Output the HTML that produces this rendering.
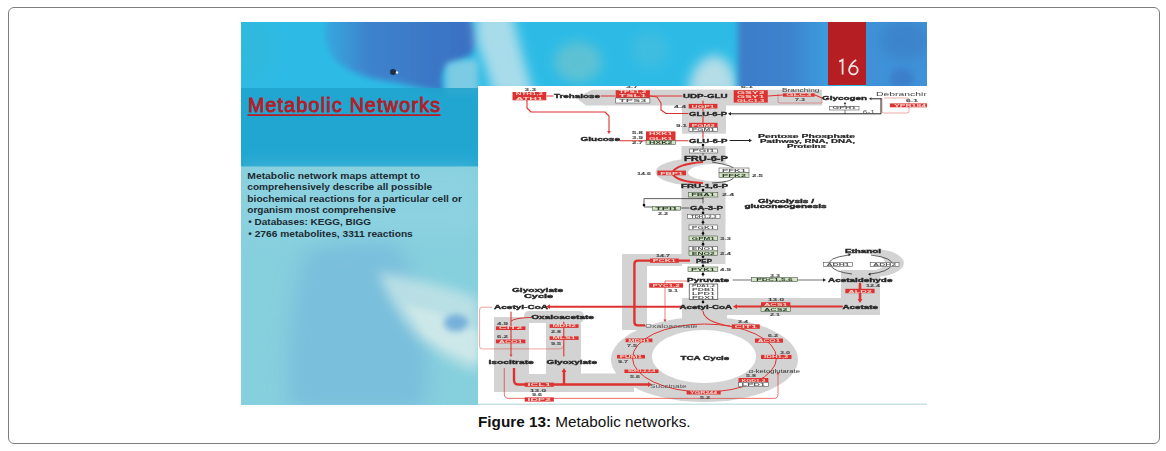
<!DOCTYPE html>
<html><head><meta charset="utf-8">
<style>
html,body{margin:0;padding:0;background:#fff;width:1166px;height:451px;overflow:hidden;}
body{position:relative;font-family:"Liberation Sans",sans-serif;}
#frame{position:absolute;left:8px;top:7px;width:1150px;height:435px;border:1px solid #7e7e7e;border-radius:6px;}
#dg{position:absolute;left:0;top:0;}
#cap{position:absolute;left:478px;top:413px;font-size:15.3px;color:#111;white-space:nowrap;}
</style></head><body>
<div id="frame"></div>
<svg id="dg" width="1166" height="451" viewBox="0 0 1166 451" font-family="Liberation Sans, sans-serif">

<defs>
 <clipPath id="ci"><rect x="241" y="22" width="686" height="383"/></clipPath>
 <clipPath id="cp"><rect x="478" y="86" width="449" height="319"/></clipPath>
 <filter id="b6" x="-50%" y="-50%" width="200%" height="200%"><feGaussianBlur stdDeviation="6"/></filter>
 <filter id="b3" x="-50%" y="-50%" width="200%" height="200%"><feGaussianBlur stdDeviation="3"/></filter>
 <filter id="b10" x="-50%" y="-50%" width="200%" height="200%"><feGaussianBlur stdDeviation="10"/></filter>
 <filter id="bd" x="0" y="0" width="100%" height="100%"><feGaussianBlur stdDeviation="0.45"/></filter>
</defs>
<g clip-path="url(#ci)">
 <rect x="241" y="22" width="686" height="383" fill="#2dbbe6"/>
 <ellipse cx="252" cy="50" rx="22" ry="35" fill="#3ab4c8" opacity="0.3" filter="url(#b10)"/>
 <linearGradient id="blobg" x1="335" y1="0" x2="470" y2="0" gradientUnits="userSpaceOnUse"><stop offset="0" stop-color="#38a0da"/><stop offset="0.25" stop-color="#3d82cc"/><stop offset="1" stop-color="#3a70c2"/></linearGradient>
 <path d="M330,12 L467,12 Q478,28 476,43 Q474,56 462,60 Q449,63 443,72 Q440,84 446,93 Q420,88 395,82 Q355,78 335,60 Q320,40 330,12 Z" fill="url(#blobg)" filter="url(#b3)"/>
 <circle cx="393" cy="72" r="3" fill="#1e3040"/>
 <path d="M476,12 L512,12 Q520,50 534,95 L494,95 Q484,60 476,40 Z" fill="#a8dcea" filter="url(#b6)"/>
 <path d="M446,64 Q465,58 478,60 L478,95 L446,95 Z" fill="#7ccbe4" filter="url(#b3)"/>
 <ellipse cx="578" cy="62" rx="24" ry="20" fill="#6ec4cf" opacity="0.75" filter="url(#b6)"/>
 <ellipse cx="650" cy="50" rx="18" ry="18" fill="#5cc0d8" opacity="0.4" filter="url(#b6)"/>
 <path d="M688,95 Q690,60 715,55 Q735,58 738,95 Z" fill="#b4dde8" filter="url(#b6)"/>
 <linearGradient id="bg2" x1="735" y1="0" x2="830" y2="0" gradientUnits="userSpaceOnUse"><stop offset="0" stop-color="#3d7cc8"/><stop offset="0.55" stop-color="#3e82cc"/><stop offset="1" stop-color="#3a9edf"/></linearGradient>
 <rect x="738" y="10" width="100" height="85" fill="url(#bg2)" filter="url(#b3)"/>
 <rect x="866" y="10" width="70" height="85" fill="#3f92d8"/>
 <ellipse cx="905" cy="40" rx="25" ry="20" fill="#3a78c0" opacity="0.5" filter="url(#b6)"/>
 <ellipse cx="902" cy="78" rx="12" ry="10" fill="#3a72c0" opacity="0.6" filter="url(#b3)"/>
 <circle cx="397" cy="72.5" r="1.2" fill="#e8f4f8"/>
 <rect x="241" y="88" width="237" height="79" fill="#1ea2cc" opacity="0.85"/>
 <rect x="241" y="166.5" width="237" height="240" fill="#86cfdd"/>
 <path d="M305,250 Q340,238 396,240 Q410,270 422,310 Q432,350 425,410 L290,410 Q282,330 305,250 Z" fill="#72b2dc" opacity="0.55" filter="url(#b10)"/>
 <path d="M378,272 Q430,280 478,298 L478,372 Q445,362 415,335 Q390,305 378,272 Z" fill="#bfe2e6" opacity="0.9" filter="url(#b6)"/>
 <path d="M405,305 Q445,312 478,332 L478,362 Q448,352 425,335 Z" fill="#d2eaea" opacity="0.8" filter="url(#b3)"/>
 <ellipse cx="456" cy="323" rx="12" ry="8.5" fill="#62a2d6" opacity="0.8" filter="url(#b3)"/>
 <rect x="241" y="167" width="237" height="70" fill="#96d6e4" opacity="0.4" filter="url(#b10)"/>
 <rect x="828" y="22" width="38" height="63" fill="#b51f24"/>
 <g fill="none" stroke="#f3e4e4" stroke-width="1.8" stroke-linecap="butt">
  <path d="M839.2,61.6 L842.6,59.8 L842.6,74.6"/>
  <circle cx="853.4" cy="70.1" r="4.3"/>
  <path d="M856.2,59.9 Q851,63 849.3,68.6"/>
 </g>
 <rect x="478" y="86" width="449" height="319" fill="#ffffff"/>
 <rect x="478" y="403.5" width="449" height="1.5" fill="#c6e2e6"/>
</g>
<text x="247.9" y="112.2" font-size="19.6" font-weight="normal" fill="#bd2028" stroke="#b01d26" stroke-width="0.9" textLength="192.1" lengthAdjust="spacing">Metabolic Networks</text>
<rect x="247.5" y="114.2" width="193" height="1.8" fill="#b81e28"/>
<g font-size="9.7" font-weight="bold" fill="#1c2a32">
 <text x="247.3" y="178.8" textLength="172.7" lengthAdjust="spacingAndGlyphs">Metabolic network maps attempt to</text>
 <text x="247.3" y="190.2" textLength="184.8" lengthAdjust="spacingAndGlyphs">comprehensively describe all possible</text>
 <text x="247.3" y="201.6" textLength="214.7" lengthAdjust="spacingAndGlyphs">biochemical reactions for a particular cell or</text>
 <text x="247.3" y="213.0" textLength="148.6" lengthAdjust="spacingAndGlyphs">organism most comprehensive</text>
 <text x="248.3" y="225.0" textLength="122.7" lengthAdjust="spacingAndGlyphs">&#8226; Databases: KEGG, BIGG</text>
 <text x="248.3" y="236.6" textLength="164.5" lengthAdjust="spacingAndGlyphs">&#8226; 2766 metabolites, 3311 reactions</text>
</g>

<g clip-path="url(#cp)"><g filter="url(#bd)">
<g fill="#d3d3d3">
<polygon points="576,98 592,89.7 822,89.7 822,105.5 586,105.5"/>
<rect x="682" y="89.7" width="44" height="44"/>
<rect x="681.5" y="146" width="44" height="118"/>
<ellipse cx="696" cy="172" rx="40.5" ry="13.5"/>
<rect x="622" y="254" width="25" height="76"/>
<rect x="622" y="254" width="60" height="12"/>
<rect x="682" y="298" width="159" height="17"/>
<rect x="841" y="271" width="39" height="44"/>
<ellipse cx="872" cy="263" rx="32" ry="14"/>
<ellipse cx="704.5" cy="359.5" rx="93.5" ry="42.5"/>
<rect x="682" y="298" width="45" height="30"/>
<rect x="494" y="317" width="35" height="75"/>
<rect x="546" y="317" width="35" height="75"/>
<rect x="524" y="311" width="60" height="12" rx="5"/>
<rect x="494" y="373.5" width="140" height="18.5"/>
</g>
<ellipse cx="704" cy="356.5" rx="52" ry="26.5" fill="#fff"/>
<ellipse cx="718" cy="172.5" rx="30" ry="8.8" fill="#fff"/>
<rect x="529" y="323.5" width="17" height="50.5" fill="#fff"/>
<ellipse cx="860" cy="262.5" rx="25" ry="9.5" fill="#fff"/>
<rect x="841" y="270" width="39" height="10" fill="#d3d3d3"/>
<path d="M527,100 L527,108 L531,112 L605,112 L609,116 L609,131" fill="none" stroke="#dd3330" stroke-width="1.1" stroke-opacity="1.0" stroke-linejoin="round" stroke-linecap="round"/>
<polygon points="609.00,134.00 607.20,131.00 610.80,131.00" fill="#dd3330"/>
<path d="M547,96 L553,96" fill="none" stroke="#dd3330" stroke-width="1.1" stroke-opacity="1.0" stroke-linejoin="round" stroke-linecap="round"/>
<path d="M601,96 L615,96" fill="none" stroke="#dd3330" stroke-width="1.1" stroke-opacity="1.0" stroke-linejoin="round" stroke-linecap="round"/>
<path d="M650,96 L682,96" fill="none" stroke="#dd3330" stroke-width="1.1" stroke-opacity="1.0" stroke-linejoin="round" stroke-linecap="round"/>
<path d="M650,96 L657,97 L661,103 L661,110 L666,113.5 L688,113.5" fill="none" stroke="#dd3330" stroke-width="1.1" stroke-opacity="1.0" stroke-linejoin="round" stroke-linecap="round"/>
<path d="M703,101 L703,103.5" fill="none" stroke="#dd3330" stroke-width="1.1" stroke-opacity="1.0" stroke-linejoin="round" stroke-linecap="round"/>
<path d="M703,108.5 L703,111" fill="none" stroke="#dd3330" stroke-width="1.1" stroke-opacity="1.0" stroke-linejoin="round" stroke-linecap="round"/>
<path d="M703,116 L703,122.5" fill="none" stroke="#dd3330" stroke-width="1.1" stroke-opacity="1.0" stroke-linejoin="round" stroke-linecap="round"/>
<path d="M703,131 L703,138" fill="none" stroke="#dd3330" stroke-width="1.1" stroke-opacity="1.0" stroke-linejoin="round" stroke-linecap="round"/>
<path d="M620,140.7 L646,140.7" fill="none" stroke="#dd3330" stroke-width="1.1" stroke-opacity="1.0" stroke-linejoin="round" stroke-linecap="round"/>
<path d="M676,140.7 L688,140.7" fill="none" stroke="#dd3330" stroke-width="1.1" stroke-opacity="1.0" stroke-linejoin="round" stroke-linecap="round"/>
<path d="M768,96 L783,95" fill="none" stroke="#dd3330" stroke-width="1.1" stroke-opacity="1.0" stroke-linejoin="round" stroke-linecap="round"/>
<path d="M815,95 L822,98" fill="none" stroke="#dd3330" stroke-width="1.1" stroke-opacity="1.0" stroke-linejoin="round" stroke-linecap="round"/>
<path d="M778,94 L778,101 Q778,103 780,103 L822,103 L822,98" fill="none" stroke="#dd3330" stroke-width="0.7" stroke-opacity="0.6" stroke-linejoin="round"/>
<path d="M882,98 L882,111 Q882,113 884,113 L907,113 Q909,113 909,111 L909,100 Q909,98 907,98 L884,98" fill="none" stroke="#dd3330" stroke-width="0.7" stroke-opacity="0.6" stroke-linejoin="round"/>
<path d="M872,98.8 L881,98.8" fill="none" stroke="#222" stroke-width="1.0" stroke-opacity="1.0" stroke-linejoin="round" stroke-linecap="round"/>
<polygon points="869.00,98.80 871.50,97.30 871.50,100.30" fill="#222"/>
<path d="M845,106.5 L845,104" fill="none" stroke="#222" stroke-width="0.6" stroke-opacity="1.0" stroke-linejoin="round" stroke-linecap="round"/>
<polygon points="845.00,102.00 843.80,104.00 846.20,104.00" fill="#222"/>
<path d="M703,162 Q676,164 672,173 Q676,182 703,183" fill="none" stroke="#dd3330" stroke-width="2.0" stroke-opacity="1.0" stroke-linejoin="round"/>
<path d="M690,260.6 L638,260.6 Q634.4,260.6 634.4,264 L634.4,322 Q634.4,325.4 638,325.4 L645,325.4" fill="none" stroke="#dd3330" stroke-width="2.4" stroke-opacity="1.0" stroke-linejoin="round"/>
<path d="M687,281 L665,281 L665,320" fill="none" stroke="#dd3330" stroke-width="0.8" stroke-opacity="0.8" stroke-linejoin="round"/>
<polygon points="665.00,322.00 663.50,319.50 666.50,319.50" fill="#dd3330"/>
<path d="M549,306.7 L681,306.7" fill="none" stroke="#dd3330" stroke-width="2.0" stroke-opacity="1.0" stroke-linejoin="round" stroke-linecap="round"/>
<polygon points="546.00,306.70 550.00,304.30 550.00,309.10" fill="#dd3330"/>
<path d="M736,306.6 L842,306.6" fill="none" stroke="#dd3330" stroke-width="2.0" stroke-opacity="1.0" stroke-linejoin="round" stroke-linecap="round"/>
<polygon points="733.00,306.60 737.00,304.20 737.00,309.00" fill="#dd3330"/>
<path d="M860,284 L860,300" fill="none" stroke="#dd3330" stroke-width="2.6" stroke-opacity="1.0" stroke-linejoin="round" stroke-linecap="round"/>
<polygon points="860.00,303.00 857.60,299.00 862.40,299.00" fill="#dd3330"/>
<path d="M703,311 Q704,322 730,326" fill="none" stroke="#dd3330" stroke-width="1.1" stroke-opacity="1.0" stroke-linejoin="round"/>
<ellipse cx="704.5" cy="358" rx="72" ry="34" fill="none" stroke="#dd3330" stroke-width="1.0"/>
<path d="M492,307.2 L482,307.2 Q479.6,307.2 479.6,310 L479.6,346 Q479.6,348.9 482,348.9 L560,348.9 Q563.8,348.9 563.8,345" fill="none" stroke="#dd3330" stroke-width="0.8" stroke-opacity="0.55" stroke-linejoin="round"/>
<path d="M511,312 L511,354" fill="none" stroke="#dd3330" stroke-width="1.1" stroke-opacity="1.0" stroke-linejoin="round" stroke-linecap="round"/>
<polygon points="511.00,357.00 509.50,354.50 512.50,354.50" fill="#dd3330"/>
<path d="M531,317.4 Q515,318 511,321" fill="none" stroke="#dd3330" stroke-width="1.0" stroke-opacity="1.0" stroke-linejoin="round"/>
<path d="M563.8,322 L563.8,356" fill="none" stroke="#dd3330" stroke-width="1.1" stroke-opacity="1.0" stroke-linejoin="round" stroke-linecap="round"/>
<path d="M514,368 L514,380 Q514,384.5 518,384.5 L649,384.5" fill="none" stroke="#dd3330" stroke-width="2.4" stroke-opacity="1.0" stroke-linejoin="round"/>
<polygon points="652.00,384.50 648.00,382.10 648.00,386.90" fill="#dd3330"/>
<path d="M564,384 L564,371" fill="none" stroke="#dd3330" stroke-width="2.4" stroke-opacity="1.0" stroke-linejoin="round" stroke-linecap="round"/>
<polygon points="564.00,368.00 561.60,372.00 566.40,372.00" fill="#dd3330"/>
<path d="M504.3,368 L504.3,394 Q504.3,398.4 509,398.4 L774,398.4 Q778,398.4 778,394 L778,375" fill="none" stroke="#dd3330" stroke-width="0.9" stroke-opacity="0.75" stroke-linejoin="round"/>
<polygon points="778.00,372.00 776.50,374.50 779.50,374.50" fill="#dd3330"/>
<path d="M730,113.8 L881,113.8 L881,98.8" fill="none" stroke="#222" stroke-width="1.0" stroke-opacity="1.0" stroke-linejoin="round" stroke-linecap="round"/>
<polygon points="728.00,113.80 731.00,112.00 731.00,115.60" fill="#222"/>
<path d="M730,140.5 L749,140.5" fill="none" stroke="#222" stroke-width="1.0" stroke-opacity="1.0" stroke-linejoin="round" stroke-linecap="round"/>
<polygon points="752.00,140.50 749.00,138.70 749.00,142.30" fill="#222"/>
<path d="M845,106.5 L845,113.8" fill="none" stroke="#222" stroke-width="0.6" stroke-opacity="1.0" stroke-linejoin="round" stroke-linecap="round"/>
<path d="M703,144.5 L703,149" fill="none" stroke="#222" stroke-width="0.7" stroke-opacity="1.0" stroke-linejoin="round" stroke-linecap="round"/>
<circle cx="703" cy="145" r="1.3" fill="#111"/>
<path d="M703,153 L703,155" fill="none" stroke="#222" stroke-width="0.7" stroke-opacity="1.0" stroke-linejoin="round" stroke-linecap="round"/>
<path d="M712,162 Q735,166 734,169" fill="none" stroke="#222" stroke-width="0.7" stroke-opacity="1.0" stroke-linejoin="round"/>
<path d="M734,177 Q733,182 712,183" fill="none" stroke="#222" stroke-width="0.7" stroke-opacity="1.0" stroke-linejoin="round"/>
<path d="M703,189 L703,192" fill="none" stroke="#222" stroke-width="0.7" stroke-opacity="1.0" stroke-linejoin="round" stroke-linecap="round"/>
<circle cx="703" cy="190" r="1.3" fill="#111"/>
<path d="M703,197 L703,203" fill="none" stroke="#222" stroke-width="0.7" stroke-opacity="1.0" stroke-linejoin="round" stroke-linecap="round"/>
<path d="M703,198.6 L644,198.6 L644,207 L652,207" fill="none" stroke="#222" stroke-width="0.7" stroke-opacity="1.0" stroke-linejoin="round" stroke-linecap="round"/>
<circle cx="644" cy="205" r="1.3" fill="#111"/>
<path d="M680.6,208 L689,208" fill="none" stroke="#222" stroke-width="0.7" stroke-opacity="1.0" stroke-linejoin="round" stroke-linecap="round"/>
<path d="M703,211 L703,214" fill="none" stroke="#222" stroke-width="0.7" stroke-opacity="1.0" stroke-linejoin="round" stroke-linecap="round"/>
<circle cx="703" cy="213.0" r="1.3" fill="#111"/>
<path d="M703,218.6 L703,225" fill="none" stroke="#222" stroke-width="0.7" stroke-opacity="1.0" stroke-linejoin="round" stroke-linecap="round"/>
<circle cx="703" cy="222.3" r="1.3" fill="#111"/>
<path d="M703,229.8 L703,236" fill="none" stroke="#222" stroke-width="0.7" stroke-opacity="1.0" stroke-linejoin="round" stroke-linecap="round"/>
<circle cx="703" cy="233.4" r="1.3" fill="#111"/>
<path d="M703,240.7 L703,246.6" fill="none" stroke="#222" stroke-width="0.7" stroke-opacity="1.0" stroke-linejoin="round" stroke-linecap="round"/>
<circle cx="703" cy="244.14999999999998" r="1.3" fill="#111"/>
<path d="M703,255.6 L703,257" fill="none" stroke="#222" stroke-width="0.7" stroke-opacity="1.0" stroke-linejoin="round" stroke-linecap="round"/>
<circle cx="703" cy="256.8" r="1.3" fill="#111"/>
<path d="M703,264 L703,267" fill="none" stroke="#222" stroke-width="0.7" stroke-opacity="1.0" stroke-linejoin="round" stroke-linecap="round"/>
<circle cx="703" cy="266.0" r="1.3" fill="#111"/>
<path d="M703,271.6 L703,276" fill="none" stroke="#222" stroke-width="0.7" stroke-opacity="1.0" stroke-linejoin="round" stroke-linecap="round"/>
<circle cx="703" cy="274.3" r="1.3" fill="#111"/>
<path d="M703,300 L703,303" fill="none" stroke="#222" stroke-width="0.7" stroke-opacity="1.0" stroke-linejoin="round" stroke-linecap="round"/>
<circle cx="703" cy="302.0" r="1.3" fill="#111"/>
<path d="M733,280 L823,280" fill="none" stroke="#333" stroke-width="0.7" stroke-opacity="1.0" stroke-linejoin="round" stroke-linecap="round"/>
<polygon points="826.00,280.00 823.00,278.20 823.00,281.80" fill="#222"/>
<path d="M849,255 Q826,258 830,265 Q834,272 852,274" fill="none" stroke="#222" stroke-width="0.7" stroke-opacity="1.0" stroke-linejoin="round"/>
<polygon points="851.00,254.80 848.50,253.30 848.50,256.30" fill="#222"/>
<path d="M871,255 Q894,258 892,265 Q888,272 870,274" fill="none" stroke="#222" stroke-width="0.7" stroke-opacity="1.0" stroke-linejoin="round"/>
<polygon points="868.00,274.20 870.50,272.70 870.50,275.70" fill="#222"/>
<rect x="512.5" y="92" width="33.80" height="8.30" fill="#dd3330"/>
<text x="529.40" y="95.49" text-anchor="middle" textLength="27.04" lengthAdjust="spacingAndGlyphs" font-size="3.94" font-weight="bold" fill="#f6d8d0">NTH1,2</text>
<text x="529.40" y="99.64" text-anchor="middle" textLength="27.04" lengthAdjust="spacingAndGlyphs" font-size="3.94" font-weight="bold" fill="#f6d8d0">ATH1</text>
<rect x="615.7" y="90.2" width="34.20" height="7.80" fill="#dd3330"/>
<text x="632.80" y="93.48" text-anchor="middle" textLength="27.36" lengthAdjust="spacingAndGlyphs" font-size="3.70" font-weight="bold" fill="#f6d8d0">TPS1,2</text>
<text x="632.80" y="97.38" text-anchor="middle" textLength="27.36" lengthAdjust="spacingAndGlyphs" font-size="3.70" font-weight="bold" fill="#f6d8d0">TSL1</text>
<rect x="615.7" y="98" width="34.20" height="5.00" fill="#ffffff" stroke="#555" stroke-width="0.6"/>
<text x="632.80" y="102.08" text-anchor="middle" textLength="27.36" lengthAdjust="spacingAndGlyphs" font-size="4.40" font-weight="bold" fill="#5a5a5a">TPS3</text>
<rect x="733.7" y="90.2" width="34.10" height="12.40" fill="#dd3330"/>
<text x="750.75" y="93.68" text-anchor="middle" textLength="27.28" lengthAdjust="spacingAndGlyphs" font-size="3.93" font-weight="bold" fill="#f6d8d0">GSY2</text>
<text x="750.75" y="97.81" text-anchor="middle" textLength="27.28" lengthAdjust="spacingAndGlyphs" font-size="3.93" font-weight="bold" fill="#f6d8d0">GSY1</text>
<text x="750.75" y="101.95" text-anchor="middle" textLength="27.28" lengthAdjust="spacingAndGlyphs" font-size="3.93" font-weight="bold" fill="#f6d8d0">GLC1,3</text>
<rect x="783" y="93.3" width="31.70" height="3.40" fill="#dd3330"/>
<text x="798.85" y="96.16" text-anchor="middle" textLength="25.36" lengthAdjust="spacingAndGlyphs" font-size="3.23" font-weight="bold" fill="#f6d8d0">GLC3</text>
<rect x="889.9" y="103.4" width="40.10" height="3.90" fill="#dd3330"/>
<text x="909.95" y="106.68" text-anchor="middle" textLength="32.08" lengthAdjust="spacingAndGlyphs" font-size="3.70" font-weight="bold" fill="#f6d8d0">YPR184</text>
<rect x="829.5" y="106.5" width="29.50" height="3.50" fill="#ffffff" stroke="#555" stroke-width="0.6"/>
<text x="844.25" y="109.45" text-anchor="middle" textLength="23.60" lengthAdjust="spacingAndGlyphs" font-size="3.32" font-weight="bold" fill="#5a5a5a">GPH1</text>
<rect x="688.7" y="103.9" width="28.70" height="4.60" fill="#dd3330"/>
<text x="703.05" y="107.77" text-anchor="middle" textLength="22.96" lengthAdjust="spacingAndGlyphs" font-size="4.37" font-weight="bold" fill="#f6d8d0">UGP1</text>
<rect x="689" y="122.8" width="28.50" height="4.70" fill="#dd3330"/>
<text x="703.25" y="126.73" text-anchor="middle" textLength="22.80" lengthAdjust="spacingAndGlyphs" font-size="4.40" font-weight="bold" fill="#f6d8d0">PGM2</text>
<rect x="689" y="127.5" width="28.50" height="3.90" fill="#ffffff" stroke="#555" stroke-width="0.6"/>
<text x="703.25" y="130.78" text-anchor="middle" textLength="22.80" lengthAdjust="spacingAndGlyphs" font-size="3.71" font-weight="bold" fill="#5a5a5a">PGM1</text>
<rect x="646" y="131.4" width="29.50" height="9.30" fill="#dd3330"/>
<text x="660.75" y="135.31" text-anchor="middle" textLength="23.60" lengthAdjust="spacingAndGlyphs" font-size="4.40" font-weight="bold" fill="#f6d8d0">HXK1</text>
<text x="660.75" y="139.96" text-anchor="middle" textLength="23.60" lengthAdjust="spacingAndGlyphs" font-size="4.40" font-weight="bold" fill="#f6d8d0">GLK1</text>
<rect x="646" y="140.7" width="29.50" height="3.80" fill="#d6e4c6" stroke="#4a5a4a" stroke-width="0.6"/>
<text x="660.75" y="143.90" text-anchor="middle" textLength="23.60" lengthAdjust="spacingAndGlyphs" font-size="3.61" font-weight="bold" fill="#2a3a2a">HXK2</text>
<rect x="689.5" y="149" width="27.90" height="4.00" fill="#ffffff" stroke="#555" stroke-width="0.6"/>
<text x="703.45" y="152.37" text-anchor="middle" textLength="22.32" lengthAdjust="spacingAndGlyphs" font-size="3.80" font-weight="bold" fill="#5a5a5a">PGI1</text>
<rect x="657.3" y="170.6" width="28.70" height="4.70" fill="#dd3330"/>
<text x="671.65" y="174.53" text-anchor="middle" textLength="22.96" lengthAdjust="spacingAndGlyphs" font-size="4.40" font-weight="bold" fill="#f6d8d0">FBP1</text>
<rect x="719" y="168" width="30.00" height="4.80" fill="#ffffff" stroke="#555" stroke-width="0.6"/>
<text x="734.00" y="171.98" text-anchor="middle" textLength="24.00" lengthAdjust="spacingAndGlyphs" font-size="4.40" font-weight="bold" fill="#5a5a5a">PFK1</text>
<rect x="719" y="172.8" width="30.00" height="4.80" fill="#d6e4c6" stroke="#4a5a4a" stroke-width="0.6"/>
<text x="734.00" y="176.78" text-anchor="middle" textLength="24.00" lengthAdjust="spacingAndGlyphs" font-size="4.40" font-weight="bold" fill="#2a3a2a">PFK2</text>
<rect x="688.3" y="192.4" width="29.50" height="4.60" fill="#d6e4c6" stroke="#4a5a4a" stroke-width="0.6"/>
<text x="703.05" y="196.27" text-anchor="middle" textLength="23.60" lengthAdjust="spacingAndGlyphs" font-size="4.37" font-weight="bold" fill="#2a3a2a">FBA1</text>
<rect x="652.6" y="206.3" width="28.00" height="3.90" fill="#d6e4c6" stroke="#4a5a4a" stroke-width="0.6"/>
<text x="666.60" y="209.58" text-anchor="middle" textLength="22.40" lengthAdjust="spacingAndGlyphs" font-size="3.70" font-weight="bold" fill="#2a3a2a">TPI1</text>
<rect x="687.4" y="214.3" width="32.60" height="4.30" fill="#ffffff" stroke="#555" stroke-width="0.6"/>
<text x="703.70" y="217.92" text-anchor="middle" textLength="26.08" lengthAdjust="spacingAndGlyphs" font-size="4.08" font-weight="bold" fill="#5a5a5a">TDH1,2,3</text>
<rect x="689" y="225" width="28.60" height="4.80" fill="#ffffff" stroke="#555" stroke-width="0.6"/>
<text x="703.30" y="228.98" text-anchor="middle" textLength="22.88" lengthAdjust="spacingAndGlyphs" font-size="4.40" font-weight="bold" fill="#5a5a5a">PGK1</text>
<rect x="689" y="236" width="28.60" height="4.70" fill="#d6e4c6" stroke="#4a5a4a" stroke-width="0.6"/>
<text x="703.30" y="239.93" text-anchor="middle" textLength="22.88" lengthAdjust="spacingAndGlyphs" font-size="4.40" font-weight="bold" fill="#2a3a2a">GPM1</text>
<rect x="689" y="246.6" width="28.60" height="4.40" fill="#ffffff" stroke="#555" stroke-width="0.6"/>
<text x="703.30" y="250.30" text-anchor="middle" textLength="22.88" lengthAdjust="spacingAndGlyphs" font-size="4.18" font-weight="bold" fill="#5a5a5a">ENO1</text>
<rect x="689" y="251" width="28.60" height="4.60" fill="#d6e4c6" stroke="#4a5a4a" stroke-width="0.6"/>
<text x="703.30" y="254.87" text-anchor="middle" textLength="22.88" lengthAdjust="spacingAndGlyphs" font-size="4.37" font-weight="bold" fill="#2a3a2a">ENO2</text>
<rect x="650" y="258.5" width="28.80" height="4.30" fill="#dd3330"/>
<text x="664.40" y="262.12" text-anchor="middle" textLength="23.04" lengthAdjust="spacingAndGlyphs" font-size="4.09" font-weight="bold" fill="#f6d8d0">PCK1</text>
<rect x="688" y="267" width="29.80" height="4.60" fill="#d6e4c6" stroke="#4a5a4a" stroke-width="0.6"/>
<text x="702.90" y="270.87" text-anchor="middle" textLength="23.84" lengthAdjust="spacingAndGlyphs" font-size="4.37" font-weight="bold" fill="#2a3a2a">PYK1</text>
<rect x="649.2" y="283.2" width="33.90" height="4.50" fill="#dd3330"/>
<text x="666.15" y="286.99" text-anchor="middle" textLength="27.12" lengthAdjust="spacingAndGlyphs" font-size="4.27" font-weight="bold" fill="#f6d8d0">PYC1,2</text>
<rect x="751.6" y="277.4" width="45.80" height="4.30" fill="#d6e4c6" stroke="#4a5a4a" stroke-width="0.6"/>
<text x="774.50" y="281.02" text-anchor="middle" textLength="36.64" lengthAdjust="spacingAndGlyphs" font-size="4.09" font-weight="bold" fill="#2a3a2a">PDC1,5,6</text>
<rect x="689.2" y="284" width="28.60" height="15.60" fill="#ffffff" stroke="#222" stroke-width="0.6"/>
<text x="703.50" y="287.28" text-anchor="middle" textLength="22.88" lengthAdjust="spacingAndGlyphs" font-size="3.71" font-weight="bold" fill="#5a5a5a">PDA1,2</text>
<text x="703.50" y="291.18" text-anchor="middle" textLength="22.88" lengthAdjust="spacingAndGlyphs" font-size="3.71" font-weight="bold" fill="#5a5a5a">PDB1</text>
<text x="703.50" y="295.08" text-anchor="middle" textLength="22.88" lengthAdjust="spacingAndGlyphs" font-size="3.71" font-weight="bold" fill="#5a5a5a">LPD1</text>
<text x="703.50" y="298.98" text-anchor="middle" textLength="22.88" lengthAdjust="spacingAndGlyphs" font-size="3.71" font-weight="bold" fill="#5a5a5a">PDX1</text>
<rect x="823.6" y="262.6" width="28.80" height="4.00" fill="#ffffff" stroke="#555" stroke-width="0.6"/>
<text x="838.00" y="265.97" text-anchor="middle" textLength="23.04" lengthAdjust="spacingAndGlyphs" font-size="3.80" font-weight="bold" fill="#5a5a5a">ADH1</text>
<rect x="870.2" y="262.6" width="28.80" height="4.00" fill="#ffffff" stroke="#555" stroke-width="0.6"/>
<text x="884.60" y="265.97" text-anchor="middle" textLength="23.04" lengthAdjust="spacingAndGlyphs" font-size="3.80" font-weight="bold" fill="#5a5a5a">ADH2</text>
<rect x="845.3" y="288.8" width="29.30" height="4.40" fill="#dd3330"/>
<text x="859.95" y="292.50" text-anchor="middle" textLength="23.44" lengthAdjust="spacingAndGlyphs" font-size="4.18" font-weight="bold" fill="#f6d8d0">ALD2</text>
<rect x="761" y="302.2" width="29.40" height="4.70" fill="#dd3330"/>
<text x="775.70" y="306.13" text-anchor="middle" textLength="23.52" lengthAdjust="spacingAndGlyphs" font-size="4.40" font-weight="bold" fill="#f6d8d0">ACS1</text>
<rect x="761" y="306.9" width="29.40" height="4.70" fill="#d6e4c6" stroke="#4a5a4a" stroke-width="0.6"/>
<text x="775.70" y="310.83" text-anchor="middle" textLength="23.52" lengthAdjust="spacingAndGlyphs" font-size="4.40" font-weight="bold" fill="#2a3a2a">ACS2</text>
<rect x="731.7" y="324.4" width="28.10" height="4.40" fill="#dd3330"/>
<text x="745.75" y="328.10" text-anchor="middle" textLength="22.48" lengthAdjust="spacingAndGlyphs" font-size="4.18" font-weight="bold" fill="#f6d8d0">CIT1</text>
<rect x="754.9" y="338.5" width="28.10" height="4.20" fill="#dd3330"/>
<text x="768.95" y="342.04" text-anchor="middle" textLength="22.48" lengthAdjust="spacingAndGlyphs" font-size="3.99" font-weight="bold" fill="#f6d8d0">ACO1</text>
<rect x="761" y="354.9" width="30.50" height="4.10" fill="#dd3330"/>
<text x="776.25" y="358.35" text-anchor="middle" textLength="24.40" lengthAdjust="spacingAndGlyphs" font-size="3.90" font-weight="bold" fill="#f6d8d0">IDH1,2</text>
<rect x="738.5" y="378" width="29.80" height="4.30" fill="#dd3330"/>
<text x="753.40" y="381.62" text-anchor="middle" textLength="23.84" lengthAdjust="spacingAndGlyphs" font-size="4.09" font-weight="bold" fill="#f6d8d0">KGD1,2</text>
<rect x="738.5" y="382.3" width="29.80" height="4.30" fill="#ffffff" stroke="#555" stroke-width="0.6"/>
<text x="753.40" y="385.92" text-anchor="middle" textLength="23.84" lengthAdjust="spacingAndGlyphs" font-size="4.09" font-weight="bold" fill="#5a5a5a">LPD1</text>
<rect x="686.6" y="390.7" width="34.10" height="3.80" fill="#dd3330"/>
<text x="703.65" y="393.90" text-anchor="middle" textLength="27.28" lengthAdjust="spacingAndGlyphs" font-size="3.61" font-weight="bold" fill="#f6d8d0">YGR244</text>
<rect x="624.4" y="369.5" width="34.10" height="3.50" fill="#dd3330"/>
<text x="641.45" y="372.45" text-anchor="middle" textLength="27.28" lengthAdjust="spacingAndGlyphs" font-size="3.32" font-weight="bold" fill="#f6d8d0">SDH1,2,3,4</text>
<rect x="617" y="354.9" width="28.00" height="3.60" fill="#dd3330"/>
<text x="631.00" y="357.93" text-anchor="middle" textLength="22.40" lengthAdjust="spacingAndGlyphs" font-size="3.42" font-weight="bold" fill="#f6d8d0">FUM1</text>
<rect x="625.6" y="338.5" width="26.80" height="3.70" fill="#dd3330"/>
<text x="639.00" y="341.62" text-anchor="middle" textLength="21.44" lengthAdjust="spacingAndGlyphs" font-size="3.51" font-weight="bold" fill="#f6d8d0">MDH1</text>
<rect x="495.9" y="326.4" width="29.50" height="3.60" fill="#dd3330"/>
<text x="510.65" y="329.43" text-anchor="middle" textLength="23.60" lengthAdjust="spacingAndGlyphs" font-size="3.42" font-weight="bold" fill="#f6d8d0">CIT2</text>
<rect x="495.9" y="339.5" width="29.50" height="3.80" fill="#dd3330"/>
<text x="510.65" y="342.70" text-anchor="middle" textLength="23.60" lengthAdjust="spacingAndGlyphs" font-size="3.61" font-weight="bold" fill="#f6d8d0">ACO1</text>
<rect x="549.6" y="324.3" width="29.00" height="3.60" fill="#dd3330"/>
<text x="564.10" y="327.33" text-anchor="middle" textLength="23.20" lengthAdjust="spacingAndGlyphs" font-size="3.42" font-weight="bold" fill="#f6d8d0">MDH2</text>
<rect x="549.6" y="336.3" width="29.00" height="3.60" fill="#dd3330"/>
<text x="564.10" y="339.33" text-anchor="middle" textLength="23.20" lengthAdjust="spacingAndGlyphs" font-size="3.42" font-weight="bold" fill="#f6d8d0">MLS1</text>
<rect x="524.7" y="382.6" width="29.10" height="4.20" fill="#dd3330"/>
<text x="539.25" y="386.14" text-anchor="middle" textLength="23.28" lengthAdjust="spacingAndGlyphs" font-size="3.99" font-weight="bold" fill="#f6d8d0">ICL1</text>
<rect x="524.7" y="397.4" width="29.10" height="4.20" fill="#dd3330"/>
<text x="539.25" y="400.94" text-anchor="middle" textLength="23.28" lengthAdjust="spacingAndGlyphs" font-size="3.99" font-weight="bold" fill="#f6d8d0">IDP2</text>
<text x="554" y="98.29" textLength="46.00" lengthAdjust="spacingAndGlyphs" font-size="5.8" font-weight="bold" fill="#262626" stroke="#262626" stroke-width="0.35">Trehalose</text>
<text x="683" y="98.49" textLength="44.50" lengthAdjust="spacingAndGlyphs" font-size="5.8" font-weight="bold" fill="#262626" stroke="#262626" stroke-width="0.35">UDP-GLU</text>
<text x="689" y="115.59" textLength="38.00" lengthAdjust="spacingAndGlyphs" font-size="5.8" font-weight="bold" fill="#262626" stroke="#262626" stroke-width="0.35">GLU-6-P</text>
<text x="580.5" y="141.29" textLength="39.50" lengthAdjust="spacingAndGlyphs" font-size="5.8" font-weight="bold" fill="#262626" stroke="#262626" stroke-width="0.35">Glucose</text>
<text x="689" y="142.79" textLength="38.50" lengthAdjust="spacingAndGlyphs" font-size="5.8" font-weight="bold" fill="#262626" stroke="#262626" stroke-width="0.35">GLU-6-P</text>
<text x="822" y="100.39" textLength="45.00" lengthAdjust="spacingAndGlyphs" font-size="5.8" font-weight="bold" fill="#262626" stroke="#262626" stroke-width="0.35">Glycogen</text>
<text x="782" y="92.37" textLength="37.40" lengthAdjust="spacingAndGlyphs" font-size="5.2" font-weight="normal" fill="#444">Branching</text>
<text x="876" y="96.47" textLength="59.00" lengthAdjust="spacingAndGlyphs" font-size="5.2" font-weight="normal" fill="#444">Debranching</text>
<text x="758" y="137.87" textLength="97.00" lengthAdjust="spacingAndGlyphs" font-size="5.2" font-weight="bold" fill="#262626" stroke="#262626" stroke-width="0.2">Pentose Phosphate</text>
<text x="760" y="143.37" textLength="95.00" lengthAdjust="spacingAndGlyphs" font-size="5.2" font-weight="bold" fill="#262626" stroke="#262626" stroke-width="0.2">Pathway, RNA, DNA,</text>
<text x="787" y="148.17" textLength="39.00" lengthAdjust="spacingAndGlyphs" font-size="5.2" font-weight="bold" fill="#262626" stroke="#262626" stroke-width="0.2">Proteins</text>
<text x="684" y="161.15" textLength="44.00" lengthAdjust="spacingAndGlyphs" font-size="6.8" font-weight="bold" fill="#262626" stroke="#262626" stroke-width="0.35">FRU-6-P</text>
<text x="681" y="187.93" textLength="47.00" lengthAdjust="spacingAndGlyphs" font-size="6.2" font-weight="bold" fill="#262626" stroke="#262626" stroke-width="0.35">FRU-1,6-P</text>
<text x="690" y="210.09" textLength="33.00" lengthAdjust="spacingAndGlyphs" font-size="5.8" font-weight="bold" fill="#262626" stroke="#262626" stroke-width="0.35">GA-3-P</text>
<text x="758" y="202.67" textLength="56.00" lengthAdjust="spacingAndGlyphs" font-size="5.2" font-weight="bold" fill="#262626" stroke="#262626" stroke-width="0.35">Glycolysis /</text>
<text x="744.4" y="207.87" textLength="82.30" lengthAdjust="spacingAndGlyphs" font-size="5.2" font-weight="bold" fill="#262626" stroke="#262626" stroke-width="0.35">gluconeogenesis</text>
<text x="696" y="262.69" textLength="16.00" lengthAdjust="spacingAndGlyphs" font-size="5.8" font-weight="bold" fill="#262626" stroke="#262626" stroke-width="0.35">PEP</text>
<text x="687" y="282.09" textLength="42.00" lengthAdjust="spacingAndGlyphs" font-size="5.8" font-weight="bold" fill="#262626" stroke="#262626" stroke-width="0.35">Pyruvate</text>
<text x="679.4" y="308.69" textLength="52.80" lengthAdjust="spacingAndGlyphs" font-size="5.8" font-weight="bold" fill="#262626" stroke="#262626" stroke-width="0.35">Acetyl-CoA</text>
<text x="845" y="253.09" textLength="36.00" lengthAdjust="spacingAndGlyphs" font-size="5.8" font-weight="bold" fill="#262626" stroke="#262626" stroke-width="0.35">Ethanol</text>
<text x="828" y="282.09" textLength="64.40" lengthAdjust="spacingAndGlyphs" font-size="5.8" font-weight="bold" fill="#262626" stroke="#262626" stroke-width="0.35">Acetaldehyde</text>
<text x="842.5" y="309.09" textLength="35.50" lengthAdjust="spacingAndGlyphs" font-size="5.8" font-weight="bold" fill="#262626" stroke="#262626" stroke-width="0.35">Acetate</text>
<text x="512" y="292.09" textLength="51.00" lengthAdjust="spacingAndGlyphs" font-size="5.8" font-weight="bold" fill="#262626" stroke="#262626" stroke-width="0.35">Glyoxylate</text>
<text x="524" y="297.79" textLength="29.00" lengthAdjust="spacingAndGlyphs" font-size="5.8" font-weight="bold" fill="#262626" stroke="#262626" stroke-width="0.35">Cycle</text>
<text x="494" y="309.09" textLength="54.00" lengthAdjust="spacingAndGlyphs" font-size="5.8" font-weight="bold" fill="#262626" stroke="#262626" stroke-width="0.35">Acetyl-CoA</text>
<text x="531.2" y="319.49" textLength="62.80" lengthAdjust="spacingAndGlyphs" font-size="5.8" font-weight="bold" fill="#262626" stroke="#262626" stroke-width="0.35">Oxaloacetate</text>
<text x="488.5" y="364.29" textLength="45.30" lengthAdjust="spacingAndGlyphs" font-size="5.8" font-weight="bold" fill="#262626" stroke="#262626" stroke-width="0.35">Isocitrate</text>
<text x="546.4" y="364.29" textLength="50.60" lengthAdjust="spacingAndGlyphs" font-size="5.8" font-weight="bold" fill="#262626" stroke="#262626" stroke-width="0.35">Glyoxylate</text>
<text x="680.5" y="360.03" textLength="48.80" lengthAdjust="spacingAndGlyphs" font-size="6.2" font-weight="bold" fill="#262626" stroke="#262626" stroke-width="0.35">TCA Cycle</text>
<text x="645" y="327.69" textLength="52.60" lengthAdjust="spacingAndGlyphs" font-size="5.8" font-weight="normal" fill="#555">Oxaloacetate</text>
<text x="650" y="387.99" textLength="36.60" lengthAdjust="spacingAndGlyphs" font-size="5.8" font-weight="normal" fill="#555">Succinate</text>
<text x="748.8" y="372.79" textLength="51.20" lengthAdjust="spacingAndGlyphs" font-size="5.8" font-weight="normal" fill="#333">&#945;-ketoglutarate</text>
<text x="862.7" y="113.62" textLength="12.30" lengthAdjust="spacingAndGlyphs" font-size="4.5" font-weight="normal" fill="#555">6-1</text>
<text x="524.6" y="90.95" textLength="11.40" lengthAdjust="spacingAndGlyphs" font-size="4.3" font-weight="bold" fill="#4a4a4a" stroke="#4a4a4a" stroke-width="0.1">3.3</text>
<text x="626" y="88.05" textLength="12.00" lengthAdjust="spacingAndGlyphs" font-size="4.3" font-weight="bold" fill="#4a4a4a" stroke="#4a4a4a" stroke-width="0.1">3.7</text>
<text x="741" y="88.05" textLength="12.00" lengthAdjust="spacingAndGlyphs" font-size="4.3" font-weight="bold" fill="#4a4a4a" stroke="#4a4a4a" stroke-width="0.1">6.1</text>
<text x="795" y="101.35" textLength="10.00" lengthAdjust="spacingAndGlyphs" font-size="4.3" font-weight="bold" fill="#4a4a4a" stroke="#4a4a4a" stroke-width="0.1">7.3</text>
<text x="906" y="102.05" textLength="12.00" lengthAdjust="spacingAndGlyphs" font-size="4.3" font-weight="bold" fill="#4a4a4a" stroke="#4a4a4a" stroke-width="0.1">6.1</text>
<text x="674" y="107.55" textLength="12.00" lengthAdjust="spacingAndGlyphs" font-size="4.3" font-weight="bold" fill="#4a4a4a" stroke="#4a4a4a" stroke-width="0.1">4.4</text>
<text x="676" y="126.55" textLength="11.00" lengthAdjust="spacingAndGlyphs" font-size="4.3" font-weight="bold" fill="#4a4a4a" stroke="#4a4a4a" stroke-width="0.1">9.1</text>
<text x="632" y="133.55" textLength="11.00" lengthAdjust="spacingAndGlyphs" font-size="4.3" font-weight="bold" fill="#4a4a4a" stroke="#4a4a4a" stroke-width="0.1">5.8</text>
<text x="632" y="138.55" textLength="11.00" lengthAdjust="spacingAndGlyphs" font-size="4.3" font-weight="bold" fill="#4a4a4a" stroke="#4a4a4a" stroke-width="0.1">3.9</text>
<text x="632" y="143.55" textLength="11.00" lengthAdjust="spacingAndGlyphs" font-size="4.3" font-weight="bold" fill="#4a4a4a" stroke="#4a4a4a" stroke-width="0.1">2.7</text>
<text x="637" y="174.55" textLength="14.00" lengthAdjust="spacingAndGlyphs" font-size="4.3" font-weight="bold" fill="#4a4a4a" stroke="#4a4a4a" stroke-width="0.1">14.6</text>
<text x="752" y="177.05" textLength="11.00" lengthAdjust="spacingAndGlyphs" font-size="4.3" font-weight="bold" fill="#4a4a4a" stroke="#4a4a4a" stroke-width="0.1">2.5</text>
<text x="722" y="196.15" textLength="12.00" lengthAdjust="spacingAndGlyphs" font-size="4.3" font-weight="bold" fill="#4a4a4a" stroke="#4a4a4a" stroke-width="0.1">2.4</text>
<text x="658" y="215.05" textLength="10.00" lengthAdjust="spacingAndGlyphs" font-size="4.3" font-weight="bold" fill="#4a4a4a" stroke="#4a4a4a" stroke-width="0.1">2.2</text>
<text x="720" y="239.85" textLength="11.00" lengthAdjust="spacingAndGlyphs" font-size="4.3" font-weight="bold" fill="#4a4a4a" stroke="#4a4a4a" stroke-width="0.1">3.3</text>
<text x="720" y="254.55" textLength="11.00" lengthAdjust="spacingAndGlyphs" font-size="4.3" font-weight="bold" fill="#4a4a4a" stroke="#4a4a4a" stroke-width="0.1">2.4</text>
<text x="656" y="257.15" textLength="14.00" lengthAdjust="spacingAndGlyphs" font-size="4.3" font-weight="bold" fill="#4a4a4a" stroke="#4a4a4a" stroke-width="0.1">14.7</text>
<text x="720" y="271.05" textLength="11.00" lengthAdjust="spacingAndGlyphs" font-size="4.3" font-weight="bold" fill="#4a4a4a" stroke="#4a4a4a" stroke-width="0.1">4.9</text>
<text x="668" y="292.05" textLength="10.00" lengthAdjust="spacingAndGlyphs" font-size="4.3" font-weight="bold" fill="#4a4a4a" stroke="#4a4a4a" stroke-width="0.1">9.1</text>
<text x="770" y="276.55" textLength="10.00" lengthAdjust="spacingAndGlyphs" font-size="4.3" font-weight="bold" fill="#4a4a4a" stroke="#4a4a4a" stroke-width="0.1">3.3</text>
<text x="866" y="286.55" textLength="14.00" lengthAdjust="spacingAndGlyphs" font-size="4.3" font-weight="bold" fill="#4a4a4a" stroke="#4a4a4a" stroke-width="0.1">12.4</text>
<text x="768" y="301.05" textLength="16.00" lengthAdjust="spacingAndGlyphs" font-size="4.3" font-weight="bold" fill="#4a4a4a" stroke="#4a4a4a" stroke-width="0.1">13.0</text>
<text x="770" y="316.05" textLength="10.00" lengthAdjust="spacingAndGlyphs" font-size="4.3" font-weight="bold" fill="#4a4a4a" stroke="#4a4a4a" stroke-width="0.1">2.1</text>
<text x="738" y="323.05" textLength="10.00" lengthAdjust="spacingAndGlyphs" font-size="4.3" font-weight="bold" fill="#4a4a4a" stroke="#4a4a4a" stroke-width="0.1">2.4</text>
<text x="768" y="337.05" textLength="10.00" lengthAdjust="spacingAndGlyphs" font-size="4.3" font-weight="bold" fill="#4a4a4a" stroke="#4a4a4a" stroke-width="0.1">6.2</text>
<text x="780" y="353.55" textLength="10.00" lengthAdjust="spacingAndGlyphs" font-size="4.3" font-weight="bold" fill="#4a4a4a" stroke="#4a4a4a" stroke-width="0.1">3.0</text>
<text x="746" y="377.05" textLength="10.00" lengthAdjust="spacingAndGlyphs" font-size="4.3" font-weight="bold" fill="#4a4a4a" stroke="#4a4a4a" stroke-width="0.1">5.8</text>
<text x="700" y="399.05" textLength="10.00" lengthAdjust="spacingAndGlyphs" font-size="4.3" font-weight="bold" fill="#4a4a4a" stroke="#4a4a4a" stroke-width="0.1">5.2</text>
<text x="630" y="377.55" textLength="10.00" lengthAdjust="spacingAndGlyphs" font-size="4.3" font-weight="bold" fill="#4a4a4a" stroke="#4a4a4a" stroke-width="0.1">5.6</text>
<text x="618" y="363.05" textLength="10.00" lengthAdjust="spacingAndGlyphs" font-size="4.3" font-weight="bold" fill="#4a4a4a" stroke="#4a4a4a" stroke-width="0.1">9.7</text>
<text x="627" y="346.55" textLength="10.00" lengthAdjust="spacingAndGlyphs" font-size="4.3" font-weight="bold" fill="#4a4a4a" stroke="#4a4a4a" stroke-width="0.1">7.5</text>
<text x="497" y="325.05" textLength="11.00" lengthAdjust="spacingAndGlyphs" font-size="4.3" font-weight="bold" fill="#4a4a4a" stroke="#4a4a4a" stroke-width="0.1">4.9</text>
<text x="497" y="338.05" textLength="11.00" lengthAdjust="spacingAndGlyphs" font-size="4.3" font-weight="bold" fill="#4a4a4a" stroke="#4a4a4a" stroke-width="0.1">6.2</text>
<text x="551" y="332.55" textLength="10.00" lengthAdjust="spacingAndGlyphs" font-size="4.3" font-weight="bold" fill="#4a4a4a" stroke="#4a4a4a" stroke-width="0.1">2.8</text>
<text x="551" y="344.55" textLength="10.00" lengthAdjust="spacingAndGlyphs" font-size="4.3" font-weight="bold" fill="#4a4a4a" stroke="#4a4a4a" stroke-width="0.1">9.5</text>
<text x="530" y="391.55" textLength="16.00" lengthAdjust="spacingAndGlyphs" font-size="4.3" font-weight="bold" fill="#4a4a4a" stroke="#4a4a4a" stroke-width="0.1">13.0</text>
<text x="532" y="396.05" textLength="10.00" lengthAdjust="spacingAndGlyphs" font-size="4.3" font-weight="bold" fill="#4a4a4a" stroke="#4a4a4a" stroke-width="0.1">9.6</text>
</g></g>
</svg>
<div id="cap"><b>Figure 13:</b> Metabolic networks.</div>
</body></html>
